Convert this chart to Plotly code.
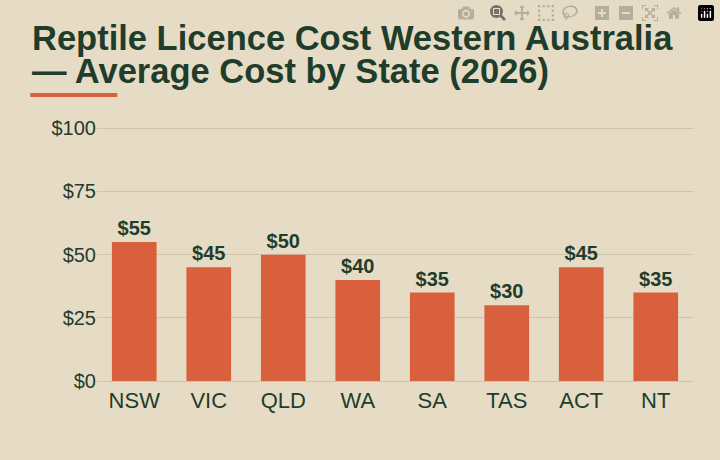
import plotly.graph_objects as go

states = ["NSW", "VIC", "QLD", "WA", "SA", "TAS", "ACT", "NT"]
costs = [55, 45, 50, 40, 35, 30, 45, 35]
y_ticks = [0, 25, 50, 75, 100]
y_tick_labels = ["$0", "$25", "$50", "$75", "$100"]
title_lines = ["Reptile Licence Cost Western Australia", "— Average Cost by State (2026)"]

bg = "#e6dcc6"
green = "#1f3d2b"
orange = "#d9603d"

fig = go.Figure(go.Bar(
    x=states, y=costs,
    marker=dict(color=orange, line=dict(width=0)),
    text=["$%d" % c for c in costs],
    textposition="outside",
    textfont=dict(family="Liberation Sans", size=20, color=green, weight="bold"),
    cliponaxis=False,
))

# two title lines placed separately for tight line spacing
for line, yy in zip(title_lines, [1.350, 1.220]):
    fig.add_annotation(text="<b>%s</b>" % line, xref="paper", yref="paper",
                       x=-0.112, y=yy, xanchor="left", yanchor="middle",
                       showarrow=False, font=dict(size=34.5, color=green))

fig.update_layout(
    width=720, height=460,
    paper_bgcolor=bg, plot_bgcolor=bg,
    margin=dict(l=97, r=27, t=127, b=79),
    bargap=0.4,
    showlegend=False,
    font=dict(family="Liberation Sans", color=green),
    shapes=[dict(type="rect", xref="paper", yref="paper",
                 x0=-0.112, x1=0.034, y0=1.118, y1=1.134,
                 fillcolor=orange, line=dict(width=0))],
)
fig.update_yaxes(range=[0, 100.5], tickvals=y_ticks, ticktext=y_tick_labels,
                 gridcolor="#cfc4ab", zeroline=False, showline=False,
                 tickfont=dict(size=20, color=green), ticks="")
fig.update_xaxes(tickfont=dict(size=22, color=green), showline=True,
                 linecolor="#cfc4ab", ticks="")

fig.write_html("out.html")

# drop the default page margin so the figure fills the window
with open("out.html") as f:
    page = f.read()
page = page.replace("<head>", "<head><style>body{margin:0;background:%s}</style>" % bg, 1)
with open("out.html", "w") as f:
    f.write(page)
